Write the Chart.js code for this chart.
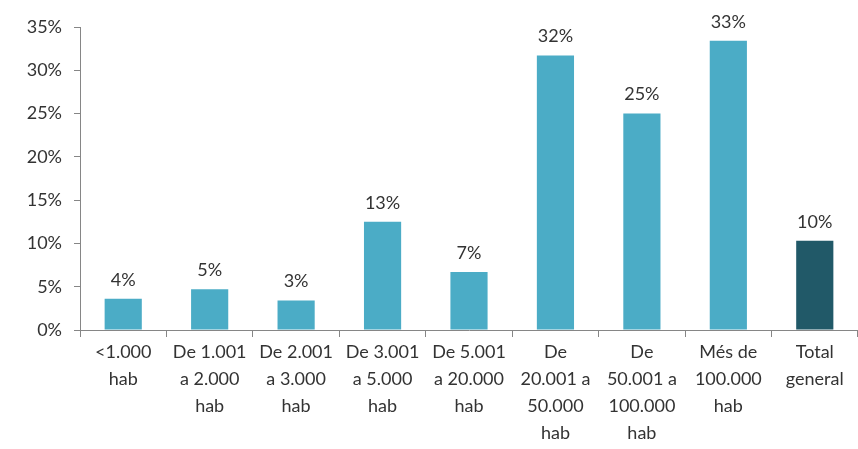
<!DOCTYPE html>
<html>
<head>
<meta charset="utf-8">
<script src="https://cdn.jsdelivr.net/npm/chart.js@4/dist/chart.umd.min.js"></script>
<style>
  html, body { margin: 0; padding: 0; background: #fff; }
  #wrap { width: 858px; height: 449px; }
</style>
</head>
<body>
<div id="wrap"><canvas id="chart"></canvas></div>
<script>
/* Categories: municipality size bands */
var categories = [
    ['<1.000', 'hab'],
    ['De 1.001', 'a 2.000', 'hab'],
    ['De 2.001', 'a 3.000', 'hab'],
    ['De 3.001', 'a 5.000', 'hab'],
    ['De 5.001', 'a 20.000', 'hab'],
    ['De', '20.001 a', '50.000', 'hab'],
    ['De', '50.001 a', '100.000', 'hab'],
    ['Més de', '100.000', 'hab'],
    ['Total', 'general']
];

/* Percentages per band */
var values = [3.6, 4.7, 3.4, 12.5, 6.7, 31.7, 25.0, 33.4, 10.3];

/* Y axis ticks */
var yTicks = [0, 5, 10, 15, 20, 25, 30, 35];

var barColors = ['#4bacc6', '#4bacc6', '#4bacc6', '#4bacc6', '#4bacc6',
                 '#4bacc6', '#4bacc6', '#4bacc6', '#215968'];

var fontFamily = 'Lato, "Open Sans", sans-serif';
var textColor = '#333333';
var axisColor = '#868686';

/* value labels above each bar */
var valueLabels = {
    id: 'valueLabels',
    afterDatasetsDraw: function (chart) {
        var ctx = chart.ctx;
        var meta = chart.getDatasetMeta(0);
        ctx.save();
        ctx.font = '18px ' + fontFamily;
        ctx.fillStyle = textColor;
        ctx.textAlign = 'center';
        ctx.textBaseline = 'bottom';
        meta.data.forEach(function (bar, i) {
            ctx.fillText(Math.round(values[i]) + '%', bar.x, bar.y - 10);
        });
        ctx.restore();
    }
};

new Chart(document.getElementById('chart').getContext('2d'), {
    type: 'bar',
    data: {
        labels: categories,
        datasets: [{
            data: values,
            backgroundColor: barColors,
            borderWidth: 0,
            categoryPercentage: 0.86,
            barPercentage: 0.5
        }]
    },
    options: {
        responsive: true,
        maintainAspectRatio: false,
        animation: false,
        layout: { padding: { top: 27, right: 0, left: 0, bottom: 0 } },
        plugins: {
            legend: { display: false },
            tooltip: { enabled: false }
        },
        scales: {
            x: {
                offset: true,
                grid: {
                    offset: true,
                    drawOnChartArea: false,
                    drawTicks: true,
                    tickLength: 7,
                    color: axisColor
                },
                border: { display: true, color: axisColor, width: 1 },
                ticks: {
                    color: textColor,
                    font: { family: fontFamily, size: 18, lineHeight: 1.5 },
                    padding: 2,
                    maxRotation: 0,
                    autoSkip: false
                }
            },
            y: {
                min: 0,
                max: 35,
                afterFit: function (scale) { scale.width = 80; },
                afterBuildTicks: function (scale) {
                    scale.ticks = yTicks.map(function (v) { return { value: v }; });
                },
                grid: {
                    drawOnChartArea: false,
                    drawTicks: true,
                    tickLength: 6,
                    color: axisColor
                },
                border: { display: true, color: axisColor, width: 1 },
                ticks: {
                    color: textColor,
                    font: { family: fontFamily, size: 18 },
                    padding: 12,
                    callback: function (v) { return v + '%'; }
                }
            }
        }
    },
    plugins: [valueLabels]
});
</script>
</body>
</html>
